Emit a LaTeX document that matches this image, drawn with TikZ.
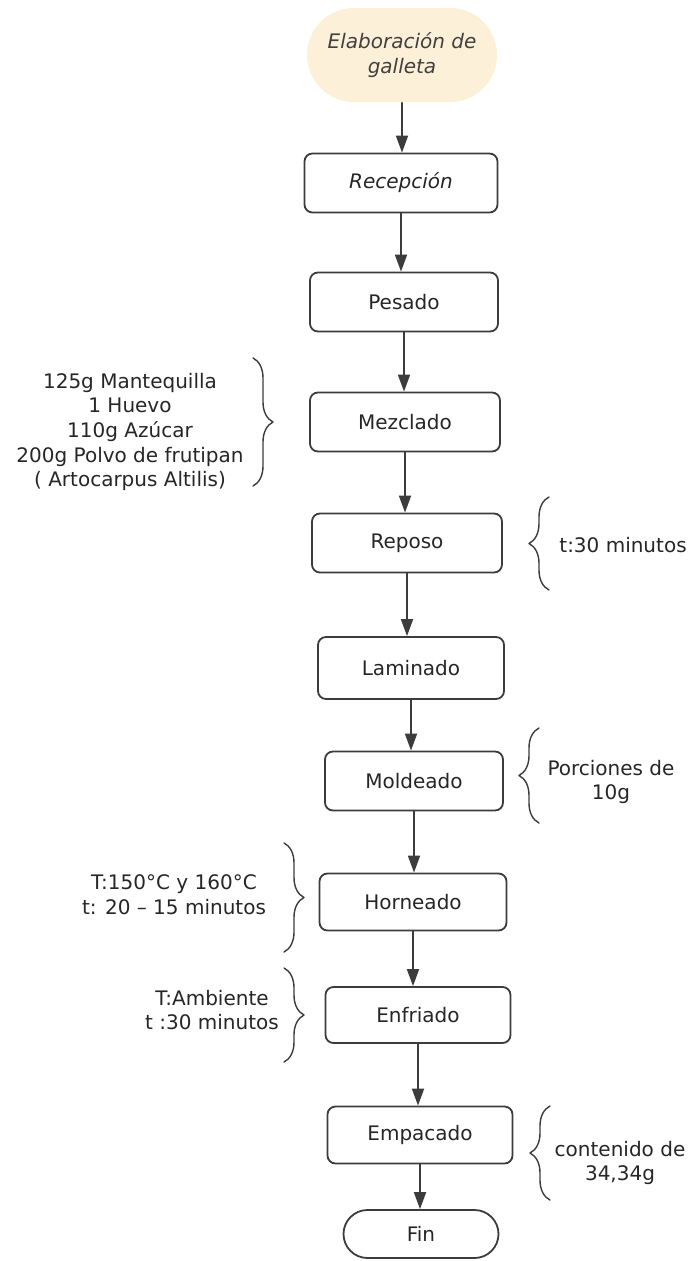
\documentclass[tikz,border=0pt]{standalone}
\usepackage{fontspec}
\setmainfont{DejaVu Sans}
\usetikzlibrary{arrows.meta,decorations.pathreplacing}
\definecolor{crema}{RGB}{253,240,216}
\definecolor{linea}{RGB}{60,60,60}
\begin{document}
\begin{tikzpicture}[x=0.5pt, y=-0.5pt, font=\fontsize{10}{12.3}\selectfont, line join=round, line cap=round, >={Triangle[length=8.5pt,width=6pt]},
	paso/.style={draw=linea, line width=0.9pt, rounded corners=4pt, minimum height=29.5pt, inner sep=0pt, text=black!85},
	term/.style={paso, rounded corners=12pt, minimum height=24pt},
	flecha/.style={->, draw=linea, line width=0.9pt},
	llave/.style={draw=linea, line width=0.7pt, decorate, decoration={brace, amplitude=10pt}},
	nota/.style={align=center, text=black!85, inner sep=0pt}]
	\useasboundingbox (0,0) rectangle (691,1261);
	% pasos del proceso
	\node[paso, draw=none, fill=crema, rounded corners=23.5pt, minimum height=47pt, minimum width=95pt, align=center, text=black!75] (inicio) at (402,55) {\itshape Elaboración de\\\itshape galleta};
	\node[paso, minimum width=96.5pt] (recep) at (401,183) {\itshape Recepción};
	\node[paso, minimum width=94pt] (pesado) at (404,302) {Pesado};
	\node[paso, minimum width=95pt] (mezcla) at (405,422) {Mezclado};
	\node[paso, minimum width=95pt] (reposo) at (407,543) {Reposo};
	\node[paso, minimum width=93pt, minimum height=31pt] (lamin) at (411,668) {Laminado};
	\node[paso, minimum width=89pt] (molde) at (414,781) {Moldeado};
	\node[paso, minimum width=93.5pt, minimum height=28.5pt] (horne) at (413,902) {Horneado};
	\node[paso, minimum width=92.5pt, minimum height=28pt] (enfri) at (418,1015) {Enfriado};
	\node[paso, minimum width=92.5pt, minimum height=28.5pt] (empaca) at (420,1135) {Empacado};
	\node[term, minimum width=77.5pt] (fin) at (421,1234) {Fin};
	\foreach \a/\b in {inicio/recep, recep/pesado, pesado/mezcla, mezcla/reposo, reposo/lamin, lamin/molde, molde/horne, horne/enfri, enfri/empaca, empaca/fin}
	\draw[flecha] (\a.south) -- (\a.south |- \b.north);
	% llaves y notas
	\draw[llave] (253,358) -- (253,486);
	\node[nota] (ingred) at (130,432) {125g Mantequilla\\1 Huevo\\110g Azúcar\\200g Polvo de frutipan\\( Artocarpus Altilis)};
	\draw[llave] (549,590) -- (549,497);
	\node[nota, anchor=west] (tiempo) at (559,545) {t:30 minutos};
	\draw[llave] (539,823) -- (539,728);
	\node[nota] (porcion) at (611,782) {Porciones de\\10g};
	\draw[llave] (284,843) -- (284,952);
	\node[nota] (horno) at (174,895) {T:150°C y 160°C\\t: 20 – 15 minutos};
	\draw[llave] (284,968) -- (284,1062);
	\node[nota] (ambiente) at (212,1010) {T:Ambiente\\t :30 minutos};
	\draw[llave] (550,1200) -- (550,1106);
	\node[nota] (contenido) at (620,1163) {contenido de\\34,34g};
\end{tikzpicture}
\end{document}
